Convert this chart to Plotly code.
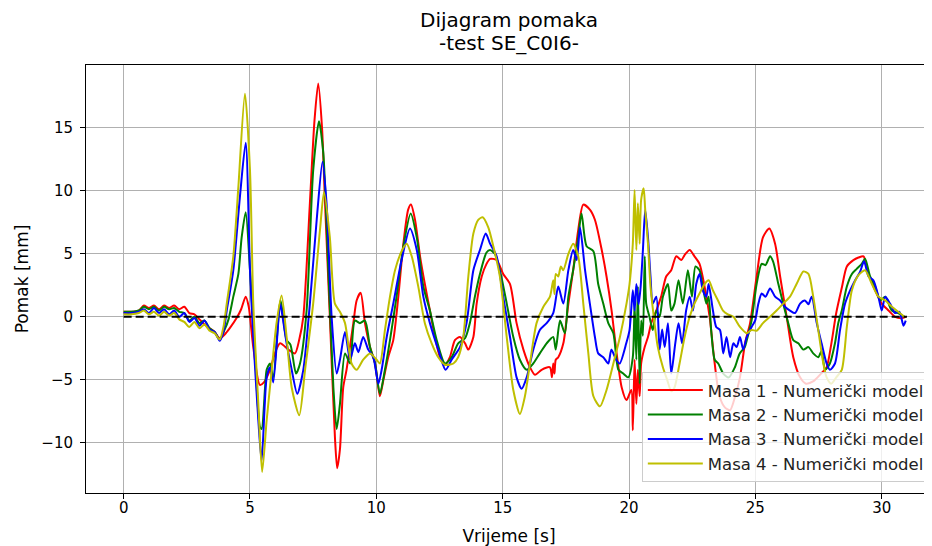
import plotly.graph_objects as go

# ---------------- data ----------------
t1 = [0, 0.3, 0.6, 0.8, 1.0, 1.2, 1.4, 1.6, 1.8, 2.0, 2.2, 2.4, 2.6, 2.8, 3.0, 3.2, 3.4, 3.6, 3.8, 4.0, 4.2, 4.47, 4.65, 4.83, 4.95, 5.13, 5.39, 5.55, 5.79, 6.0, 6.19, 6.52, 6.78, 6.95, 7.11, 7.37, 7.55, 7.7, 7.85, 7.97, 8.16, 8.36, 8.45, 8.56, 8.69, 8.82, 9.09, 9.22, 9.38, 9.55, 9.75, 9.95, 10.14, 10.28, 10.47, 10.67, 10.87, 11.07, 11.26, 11.37, 11.53, 11.73, 11.92, 12.12, 12.32, 12.52, 12.72, 12.91, 13.11, 13.31, 13.51, 13.64, 13.84, 13.97, 14.17, 14.36, 14.5, 14.76, 15.02, 15.29, 15.55, 15.82, 16.08, 16.28, 16.54, 16.87, 16.95, 17.0, 17.05, 17.1, 17.2, 17.4, 17.6, 17.79, 17.99, 18.19, 18.45, 18.65, 18.92, 19.11, 19.31, 19.51, 19.71, 19.9, 20.09, 20.15, 20.22, 20.29, 20.35, 20.42, 20.48, 20.62, 20.75, 20.88, 21.08, 21.27, 21.47, 21.67, 21.87, 22.07, 22.2, 22.4, 22.59, 22.79, 22.99, 23.19, 23.39, 23.58, 23.8, 24.0, 24.2, 24.39, 24.6, 24.79, 25.05, 25.3, 25.55, 25.78, 25.98, 26.24, 26.5, 26.77, 27.0, 27.3, 27.6, 27.82, 28.0, 28.2, 28.42, 28.62, 28.88, 29.08, 29.28, 29.48, 29.74, 30.0, 30.27, 30.53, 30.8, 30.95]
y1 = [0.4, 0.4, 0.5, 0.9, 0.7, 0.9, 0.6, 0.9, 0.7, 0.9, 0.6, 0.8, 0.3, 0.2, -0.2, -0.6, -0.9, -1.2, -1.7, -1.4, -0.9, -0.1, 0.6, 1.6, 0.8, -2.4, -5.4, -5.2, -4.2, -2.8, -2.1, -2.6, -2.9, -1.8, 0, 9, 15.5, 18.5, 15, 9, 0, -9.5, -12.0, -10.5, -5.6, -4.2, -0.5, 1.3, 1.9, -0.5, -2.4, -3.7, -6.3, -5.0, -3.2, -1.85, 1.6, 5.8, 8.5, 8.9, 7.7, 4.8, 2.6, 0.5, -1.6, -3.2, -3.8, -3.2, -1.85, -1.6, -2.1, -2.6, -1.6, 1.05, 3.2, 4.2, 4.6, 4.5, 3.4, 2.6, -0.5, -2.6, -4.0, -4.6, -4.2, -4.0, -4.8, -3.7, -4.5, -3.4, -3.2, -2.1, 1.05, 3.7, 6.9, 8.9, 8.5, 7.7, 5.3, 3.2, 0.5, -2.9, -5.6, -6.6, -5.8, -9.0, -3.4, -6.9, -4.2, -6.3, -3.7, -2.4, -1.6, -0.5, 0.5, 1.6, 3.2, 3.7, 4.8, 4.5, 4.9, 5.3, 4.8, 4.2, 2.4, 0, -3.7, -6.3, -7.2, -7.4, -6.3, -4.8, -2.0, -0.5, 3.2, 6.3, 7.0, 5.8, 3.2, 0, -3.2, -4.8, -5.3, -5.1, -4.5, -4.0, -2.2, 0.3, 2.3, 4.0, 4.5, 4.7, 4.8, 3.4, 2.1, 1.05, 0.5, 0, -0.1, 0]

t2 = [0, 0.3, 0.6, 0.8, 1.0, 1.2, 1.4, 1.6, 1.8, 2.0, 2.2, 2.4, 2.6, 2.8, 3.0, 3.2, 3.4, 3.6, 3.8, 4.0, 4.15, 4.34, 4.54, 4.67, 4.83, 5.0, 5.2, 5.39, 5.46, 5.6, 5.66, 5.79, 5.92, 6.21, 6.45, 6.6, 6.82, 6.98, 7.24, 7.5, 7.73, 7.9, 8.1, 8.3, 8.43, 8.56, 8.76, 8.96, 9.15, 9.35, 9.55, 9.75, 9.95, 10.14, 10.34, 10.54, 10.8, 11.07, 11.36, 11.6, 11.86, 12.12, 12.39, 12.72, 12.98, 13.24, 13.51, 13.7, 13.9, 14.1, 14.36, 14.5, 14.69, 14.89, 15.16, 15.42, 15.68, 15.95, 16.21, 16.47, 16.74, 17.0, 17.1, 17.27, 17.46, 17.6, 17.79, 17.99, 18.12, 18.32, 18.59, 18.78, 18.98, 19.18, 19.38, 19.58, 19.77, 19.97, 20.15, 20.22, 20.29, 20.35, 20.42, 20.48, 20.55, 20.62, 20.68, 20.81, 20.94, 21.08, 21.21, 21.34, 21.54, 21.67, 21.8, 21.96, 22.13, 22.33, 22.49, 22.63, 22.79, 22.92, 23.06, 23.15, 23.25, 23.39, 23.53, 23.73, 23.95, 24.19, 24.38, 24.58, 24.66, 24.85, 25.05, 25.25, 25.4, 25.58, 25.7, 25.91, 26.1, 26.3, 26.5, 26.7, 26.9, 27.1, 27.29, 27.49, 27.62, 27.76, 27.95, 28.15, 28.28, 28.42, 28.62, 28.82, 29.01, 29.21, 29.34, 29.54, 29.74, 29.94, 30.14, 30.4, 30.65, 30.9]
y2 = [0.4, 0.4, 0.5, 0.8, 0.6, 0.8, 0.5, 0.8, 0.6, 0.7, 0.4, 0.3, -0.3, 0.0, -0.5, -0.3, -0.9, -1.2, -1.8, -1.0, -0.2, 1.6, 3.4, 6.3, 8.3, 3.7, -2.9, -8.7, -8.9, -5.5, -4.2, -3.7, -4.8, 1.3, -1.85, -2.2, -4.5, -3.7, 0.5, 11.6, 15.5, 13, 3.7, -5.6, -8.9, -6.9, -2.9, -3.7, -0.3, -0.5, -0.3, -2.4, -3.7, -6.1, -4.2, -1.85, 1.6, 5.6, 8.2, 6.3, 2.4, 0.5, -1.85, -3.7, -3.2, -2.1, -1.7, -0.5, 1.6, 3.4, 5.1, 5.3, 5.0, 3.7, 1.05, -1.6, -3.4, -4.2, -3.7, -2.9, -2.1, -1.6, -2.6, -0.3, -1.3, 1.6, 3.7, 6.3, 8.2, 5.6, 5.2, 2.6, 1.05, -0.5, -1.3, -4.2, -4.5, -4.8, -3.2, 1.05, -3.4, 2.4, -5.3, -0.3, -1.5, 4.8, 1.05, 0, -1.05, 0.5, 0, 1.6, 2.6, 0.5, 1.05, 2.9, 1.05, 3.7, 1.6, 4.0, 3.7, 2.4, 1.05, 1.6, -1.05, -3.4, -3.7, -4.5, -4.8, -4.0, -2.9, -2.4, -1.85, -0.3, 2.6, 4.2, 4.1, 4.8, 4.4, 2.6, 1.05, -0.5, -1.85, -2.1, -2.6, -2.4, -2.9, -3.2, -2.7, -4.2, -3.7, -2.1, -0.5, 0.5, 2.4, 3.4, 3.8, 4.2, 4.6, 3.2, 2.4, 1.3, 1.6, 0.5, 0.3, 0]

t3 = [0, 0.3, 0.6, 0.8, 1.0, 1.2, 1.4, 1.6, 1.8, 2.0, 2.2, 2.4, 2.6, 2.8, 3.0, 3.2, 3.4, 3.6, 3.8, 3.95, 4.08, 4.34, 4.6, 4.83, 5.0, 5.13, 5.33, 5.46, 5.66, 5.79, 5.92, 6.19, 6.25, 6.45, 6.65, 6.87, 7.11, 7.37, 7.64, 7.87, 8.03, 8.23, 8.43, 8.56, 8.76, 8.96, 9.15, 9.29, 9.48, 9.68, 9.88, 10.08, 10.21, 10.41, 10.67, 11.0, 11.33, 11.6, 11.86, 12.12, 12.45, 12.74, 12.98, 13.31, 13.57, 13.84, 14.1, 14.33, 14.5, 14.76, 15.02, 15.29, 15.55, 15.75, 15.95, 16.21, 16.47, 16.74, 17.0, 17.2, 17.4, 17.6, 17.79, 17.93, 18.06, 18.26, 18.45, 18.65, 18.78, 18.98, 19.18, 19.3, 19.49, 19.63, 19.89, 20.02, 20.15, 20.22, 20.29, 20.38, 20.46, 20.55, 20.64, 20.75, 20.85, 20.94, 21.08, 21.21, 21.31, 21.41, 21.54, 21.67, 21.83, 21.96, 22.1, 22.26, 22.4, 22.53, 22.66, 22.79, 22.92, 23.06, 23.15, 23.32, 23.45, 23.6, 23.73, 23.86, 24.0, 24.13, 24.26, 24.39, 24.52, 24.66, 24.85, 24.99, 25.12, 25.25, 25.4, 25.58, 25.78, 25.98, 26.17, 26.37, 26.57, 26.77, 26.96, 27.1, 27.23, 27.43, 27.62, 27.82, 27.95, 28.15, 28.35, 28.55, 28.75, 28.95, 29.15, 29.3, 29.48, 29.67, 29.87, 30.0, 30.14, 30.33, 30.53, 30.7, 30.86, 30.95]
y3 = [0.3, 0.3, 0.4, 0.6, 0.3, 0.7, 0.3, 0.6, 0.2, 0.5, 0.0, 0.3, -0.4, -0.1, -0.7, -0.3, -1.0, -1.2, -1.9, -1.2, 0.5, 3.7, 9.5, 13.8, 3.7, -1.6, -8.2, -11.4, -4.8, -4.0, -5.2, 1.05, 0.5, -2.1, -4.2, -6.1, -4.2, 1.05, 7.7, 12.3, 9.0, 0, -4.5, -3.4, -1.2, -3.4, -2.1, -2.8, -1.6, -2.6, -3.2, -5.3, -4.2, -1.6, 1.05, 4.5, 7.0, 5.3, 1.6, -0.5, -2.6, -4.2, -3.4, -2.4, -0.5, 3.7, 5.3, 6.6, 5.8, 4.8, 1.6, -1.6, -4.8, -5.7, -4.8, -2.6, -1.05, -0.5, 0.3, 2.4, 1.05, 3.7, 5.3, 4.5, 7.1, 3.7, 1.05, -1.6, -2.9, -3.2, -3.7, -2.6, -3.4, -3.7, -2.1, -1.05, 2.1, 0.5, 2.6, 1.0, 2.4, 5.3, 8.5, 6.3, 3.2, 1.05, 1.6, -2.6, -1.0, -2.4, -0.5, -4.5, -2.1, -0.5, -2.1, 0.5, 1.6, 0.5, 2.6, 3.4, 2.1, 1.6, 2.6, 0.5, -0.8, -1.05, -2.9, -1.6, -3.2, -2.1, -2.4, -1.6, -2.6, -1.6, -0.8, -0.3, 1.05, 1.85, 1.6, 2.25, 1.6, 1.3, 0.8, 0.5, 0.3, 1.05, 1.3, 1.0, 1.6, -0.5, -2.1, -3.7, -4.2, -3.7, -1.05, 1.05, 2.1, 2.9, 3.6, 4.4, 3.2, 2.9, 1.6, 0.5, 1.6, 1.05, 0.3, 0.4, -0.7, -0.3]

t4 = [0, 0.3, 0.6, 0.8, 1.0, 1.2, 1.4, 1.6, 1.8, 2.0, 2.2, 2.4, 2.6, 2.8, 3.0, 3.2, 3.4, 3.6, 3.8, 3.95, 4.08, 4.34, 4.54, 4.8, 5.0, 5.13, 5.33, 5.48, 5.66, 5.86, 6.05, 6.25, 6.45, 6.65, 6.95, 7.18, 7.5, 7.77, 7.93, 8.16, 8.36, 8.56, 8.76, 9.02, 9.22, 9.48, 9.75, 10.01, 10.14, 10.34, 10.54, 10.74, 11.0, 11.2, 11.4, 11.66, 11.92, 12.19, 12.45, 12.72, 13.05, 13.24, 13.44, 13.64, 13.84, 14.04, 14.21, 14.43, 14.63, 14.89, 15.16, 15.42, 15.68, 15.88, 16.08, 16.34, 16.61, 16.87, 17.0, 17.05, 17.1, 17.2, 17.3, 17.4, 17.6, 17.79, 17.99, 18.19, 18.39, 18.59, 18.85, 19.11, 19.38, 19.64, 19.9, 20.02, 20.15, 20.22, 20.29, 20.35, 20.42, 20.48, 20.58, 20.64, 20.75, 20.85, 20.98, 21.14, 21.34, 21.51, 21.67, 21.8, 22.0, 22.2, 22.4, 22.59, 22.79, 22.99, 23.15, 23.32, 23.52, 23.72, 23.91, 24.13, 24.39, 24.66, 24.85, 25.05, 25.3, 25.58, 25.84, 26.1, 26.37, 26.63, 26.9, 27.1, 27.29, 27.49, 27.69, 27.82, 28.0, 28.2, 28.42, 28.62, 28.82, 29.08, 29.34, 29.61, 29.87, 30.14, 30.4, 30.65, 30.9]
y4 = [0.2, 0.2, 0.3, 0.5, 0.2, 0.4, 0.1, 0.4, 0.1, 0.3, -0.2, -0.4, -0.8, -0.4, -0.9, -0.6, -1.1, -1.3, -1.8, -0.8, 1.05, 4.8, 10.3, 17.7, 11.6, 1.05, -6.9, -12.3, -8.2, -4.2, -0.5, 1.7, -1.6, -5.6, -7.8, -4.2, 1.05, 6.9, 9.9, 6.3, 1.05, 0.4, -0.5, -3.7, -4.2, -3.4, -2.9, -3.4, -3.7, -1.05, 1.6, 3.7, 5.2, 5.8, 4.8, 2.4, -0.5, -2.1, -3.2, -3.8, -3.7, -3.2, -1.6, 3.2, 6.6, 7.7, 7.9, 7.1, 5.6, 3.2, -1.6, -5.8, -7.7, -6.3, -3.7, -0.5, 0.8, 1.6, 2.9, 1.8, 3.4, 3.2, 4.0, 3.7, 5.0, 5.8, 4.8, 1.05, -2.9, -6.3, -7.1, -5.8, -3.7, -1.6, 1.05, 2.6, 5.8, 10.05, 5.3, 9.0, 5.8, 9.3, 10.2, 8.5, 5.8, 2.4, 0, -2.4, -4.0, -5.0, -5.9, -5.6, -3.7, -1.6, 0, 1.05, 1.85, 2.6, 2.9, 2.1, 1.3, 0.5, 0.2, 0, -0.8, -1.3, -1.05, -1.1, -0.5, 0, 0.5, 1.05, 1.6, 2.6, 3.6, 3.4, 1.6, -1.05, -3.7, -4.8, -5.3, -4.8, -4.2, -0.8, 2.1, 3.3, 3.7, 2.6, 1.6, 1.3, 0.8, 0.4, 0]

zero_t = [0, 31]
zero_y = [0, 0]

names = ["Masa 1 - Numerički model", "Masa 2 - Numerički model",
         "Masa 3 - Numerički model", "Masa 4 - Numerički model"]
colors = ["#ff0000", "#008000", "#0000ff", "#bfbf00"]
x_ticks = [0, 5, 10, 15, 20, 25, 30]
y_ticks = [-10, -5, 0, 5, 10, 15]
title_lines = ["Dijagram pomaka", "-test SE_C0I6-"]

# ---------------- figure ----------------
fig = go.Figure()
for t, y, n, c in zip([t1, t2, t3, t4], [y1, y2, y3, y4], names, colors):
    fig.add_trace(go.Scatter(x=t, y=y, mode="lines", name=n,
                             line=dict(color=c, width=2, shape="spline", smoothing=0.7)))
fig.add_trace(go.Scatter(x=zero_t, y=zero_y, mode="lines", showlegend=False,
                         line=dict(color="black", width=2, dash="8px,4px")))

font = "DejaVu Sans, Arial, sans-serif"
annots = []
for line_text, shift in zip(title_lines, [45, 22]):
    annots.append(dict(text=line_text, xref="paper", yref="paper",
                       x=0.5, y=1, xanchor="center", yanchor="middle", yshift=shift,
                       showarrow=False, font=dict(size=20, family=font, color="black")))

fig.update_layout(
    width=924, height=538,
    margin=dict(l=78, r=0, t=57, b=53, autoexpand=False),
    paper_bgcolor="white", plot_bgcolor="white",
    font=dict(family=font, size=15, color="black"),
    legend=dict(x=0.657, xanchor="left", y=0.283, yanchor="top",
                itemwidth=55,
                bgcolor="rgba(255,255,255,0.8)", bordercolor="#cccccc", borderwidth=1,
                font=dict(size=16.5, family=font, color="#222222")),
    showlegend=True,
    annotations=annots,
)
fig.update_xaxes(range=[-1.49, 31.99], tickvals=x_ticks, showgrid=True, automargin=False,
                 gridcolor="#b0b0b0", gridwidth=1, zeroline=False,
                 showline=True, linecolor="black", linewidth=1, mirror=True,
                 ticks="outside", ticklen=5, tickcolor="black", ticklabelstandoff=-4,
                 title=dict(text="Vrijeme [s]", standoff=17, font=dict(size=17)))
fig.update_yaxes(range=[-13.97, 19.97], tickvals=y_ticks, showgrid=True, automargin=False,
                 gridcolor="#b0b0b0", gridwidth=1, zeroline=False,
                 showline=True, linecolor="black", linewidth=1, mirror=False,
                 ticks="outside", ticklen=5, tickcolor="black", ticklabelstandoff=4,
                 title=dict(text="Pomak [mm]", standoff=8, font=dict(size=17)))

fig.write_html("out.html")
